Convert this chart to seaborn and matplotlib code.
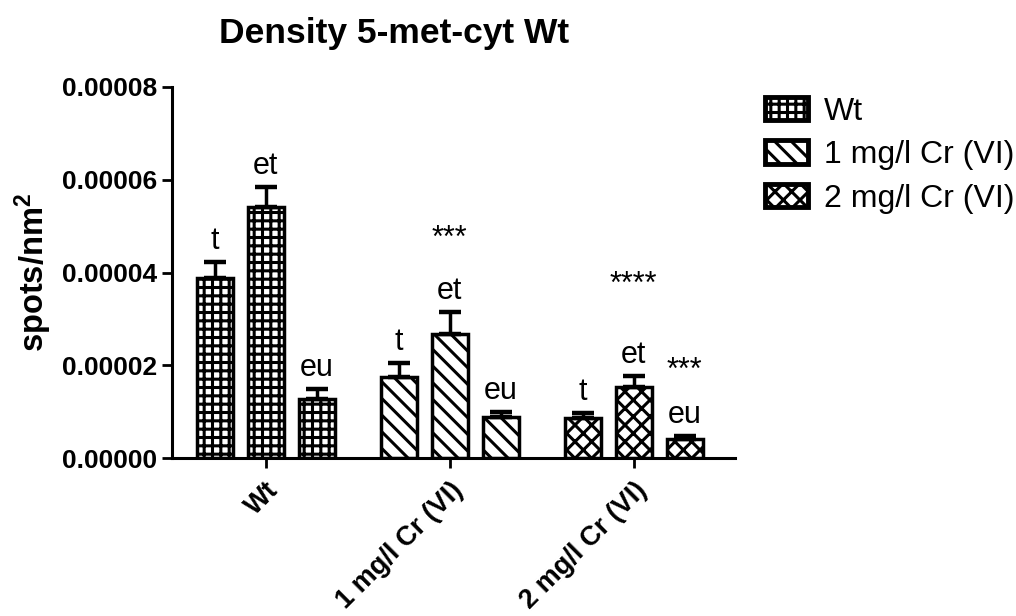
import numpy as np
import pandas as pd
import matplotlib
matplotlib.use('Agg')
import matplotlib.pyplot as plt
from matplotlib.patches import Patch
from matplotlib.ticker import FormatStrFormatter
import seaborn as sns

# data
treatments = ['Wt', '1 mg/l Cr (VI)', '2 mg/l Cr (VI)']
regions = ['t', 'et', 'eu']
density_t = [3.88e-5, 1.75e-5, 0.86e-5]
density_et = [5.41e-5, 2.67e-5, 1.53e-5]
density_eu = [1.27e-5, 0.88e-5, 0.41e-5]
sem_t = [0.35e-5, 0.30e-5, 0.11e-5]
sem_et = [0.43e-5, 0.48e-5, 0.24e-5]
sem_eu = [0.22e-5, 0.11e-5, 0.06e-5]
# significance marks: (treatment index, region index, text)
stars = [(1, 1, '***'), (2, 1, '****'), (2, 2, '***')]

sns.set_style('ticks')
plt.rcParams['font.family'] = ['Liberation Sans', 'DejaVu Sans']
plt.rcParams['text.color'] = 'black'
plt.rcParams['axes.labelcolor'] = 'black'
plt.rcParams['mathtext.fontset'] = 'custom'
plt.rcParams['mathtext.rm'] = 'Liberation Sans'
plt.rcParams['mathtext.bf'] = 'Liberation Sans:bold'
plt.rcParams['hatch.linewidth'] = 2.2
plt.rcParams['hatch.color'] = 'black'

df = pd.DataFrame({
    'treatment': treatments * 3,
    'region': [r for r in regions for _ in treatments],
    'density': density_t + density_et + density_eu,
    'sem': sem_t + sem_et + sem_eu,
})

fig = plt.figure(figsize=(10.16, 6.16), dpi=100)
ax = fig.add_axes([172 / 1016, 158 / 616, 563 / 1016, 371 / 616])

sns.barplot(data=df, x='treatment', y='density', hue='region', order=treatments,
            hue_order=regions, errorbar=None, width=0.83, gap=0.3,
            palette=['white'] * 3, edgecolor='black',
            linewidth=2.5, legend=False, ax=ax)

hatches = ['++', '\\\\', 'xx']
sems = [sem_t, sem_et, sem_eu]
vals = [density_t, density_et, density_eu]
bar_conts = list(ax.containers)
centers = {}
for i, cont in enumerate(bar_conts):
    for j, bar in enumerate(cont):
        bar.set_hatch(hatches[j])
        xc = bar.get_x() + bar.get_width() / 2
        centers[(i, j)] = xc
        top = vals[i][j] + sems[i][j]
        ax.errorbar(xc, vals[i][j], yerr=[[0], [sems[i][j]]], fmt='none',
                    ecolor='black', elinewidth=2.5, capsize=8, capthick=3.2, zorder=1)
        ax.annotate(regions[i], (xc, top), xytext=(0, 6), textcoords='offset pixels',
                    ha='center', va='bottom', fontsize=22)

star_off = [58, 76, 50]
for (j, i, txt), off in zip(stars, star_off):
    top = vals[i][j] + sems[i][j]
    ax.annotate(txt, (centers[(i, j)], top), xytext=(0, off), textcoords='offset pixels',
                ha='center', va='bottom', fontsize=22)

ax.set_xlim(-0.51, 2.55)
ax.set_ylim(0, 8e-5)
ax.set_yticks(np.arange(0, 8.1e-5, 2e-5))
ax.yaxis.set_major_formatter(FormatStrFormatter('%.5f'))
ax.set_xlabel('')
ax.set_ylabel('spots/nm$\\mathbf{^2}$', fontsize=23.5, fontweight='bold', labelpad=6)
ax.tick_params(axis='both', width=2, length=7, labelsize=19, colors='black')
ax.tick_params(axis='x', pad=7)
for lab in ax.get_yticklabels():
    lab.set_fontweight('bold')
ax.set_xticks(range(3))
ax.set_xticklabels(treatments, rotation=45, ha='right', rotation_mode='anchor',
                   fontweight='bold', fontsize=19.5)
sns.despine(ax=ax)
for s in ['left', 'bottom']:
    ax.spines[s].set_linewidth(2.2)
    ax.spines[s].set_color('black')

handles = [Patch(facecolor='white', edgecolor='black', hatch=h, linewidth=3.5)
           for h in hatches]
fig.legend(handles, treatments, loc='upper left', bbox_to_anchor=(736 / 1016, 1 - 68 / 616),
           frameon=False, fontsize=23, handlelength=1.35, handleheight=0.75,
           handletextpad=0.5, labelspacing=0.42)

fig.text(394 / 1016, 1 - 33 / 616, 'Density 5-met-cyt Wt', ha='center', va='center',
         fontsize=25.5, fontweight='bold')

fig.savefig('out.png', dpi=100)
plt.close(fig)
